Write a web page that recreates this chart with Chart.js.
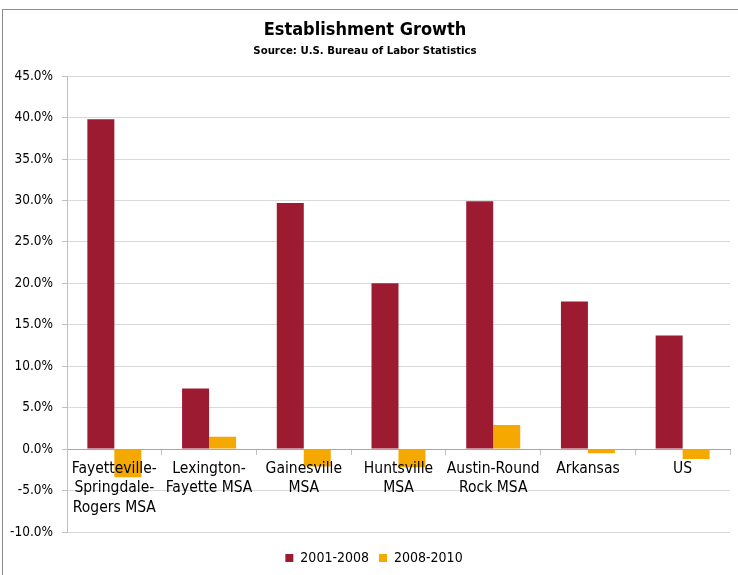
<!DOCTYPE html>
<html>
<head>
<meta charset="utf-8">
<script src="https://cdn.jsdelivr.net/npm/chart.js@4.4.1/dist/chart.umd.min.js"></script>
<style>
  html, body { margin: 0; padding: 0; background: #fff; }
  #wrap { position: relative; width: 738px; height: 575px; overflow: hidden; }
  #frame { position: absolute; left: 2px; top: 9px; width: 760px; height: 600px; border: 1px solid #8c8c8c; box-sizing: border-box; }
  canvas { position: absolute; left: 0; top: 0; }
</style>
</head>
<body>
<div id="wrap">
  <div id="frame"></div>
  <canvas id="c" width="738" height="575"></canvas>
</div>
<script>
const categories = [
  ["Fayetteville-", "Springdale-", "Rogers MSA"],
  ["Lexington-", "Fayette MSA"],
  ["Gainesville", "MSA"],
  ["Huntsville", "MSA"],
  ["Austin-Round", "Rock MSA"],
  ["Arkansas"],
  ["US"]
];
const growth2001_2008 = [39.8, 7.3, 29.7, 20.0, 29.9, 17.8, 13.7];
const growth2008_2010 = [-3.4, 1.5, -2.1, -2.2, 2.9, -0.5, -1.2];
const seriesNames = ["2001-2008", "2008-2010"];
const yTickMin = -10, yTickMax = 45, yTickStep = 5;

const FONT = '"DejaVu Sans Condensed", "DejaVu Sans", sans-serif';
const RED = '#9C1B31';
const ORANGE = '#F5A800';

// nudge the legend slightly right to match the reference centring
const legendShift = {
  id: 'legendShift',
  afterLayout(chart) {
    if (chart.legend) { chart.legend.left += 9; chart.legend.right += 9; }
  }
};

new Chart(document.getElementById('c'), {
  type: 'bar',
  data: {
    labels: categories,
    datasets: [
      { label: seriesNames[0], data: growth2001_2008, backgroundColor: RED, borderWidth: 0 },
      { label: seriesNames[1], data: growth2008_2010, backgroundColor: ORANGE, borderWidth: 0 }
    ]
  },
  options: {
    responsive: false,
    animation: false,
    layout: { padding: { left: 0, right: 8, top: 0, bottom: 0 } },
    datasets: { bar: { categoryPercentage: 0.57, barPercentage: 1.0 } },
    plugins: {
      title: {
        display: true,
        text: 'Establishment Growth',
        color: '#000',
        font: { family: FONT, size: 18, weight: 'bold' },
        padding: { top: 20, bottom: 0 }
      },
      subtitle: {
        display: true,
        text: 'Source: U.S. Bureau of Labor Statistics',
        color: '#000',
        font: { family: FONT, size: 11.3, weight: 'bold' },
        padding: { top: 3, bottom: 18 }
      },
      legend: {
        position: 'bottom',
        title: { display: true, text: ' ', padding: 0, font: { family: FONT, size: 7.5 } },
        labels: {
          color: '#000',
          font: { family: FONT, size: 14 },
          boxWidth: 8, boxHeight: 8,
          padding: 10
        }
      },
      tooltip: { enabled: false }
    },
    scales: {
      x: {
        position: { y: 0 },
        grid: { offset: true, drawOnChartArea: false, drawTicks: true, tickLength: 5, tickColor: '#bfbfbf' },
        border: { display: true, color: '#a6a6a6', width: 1 },
        ticks: {
          z: 1,
          color: '#000',
          font: { family: FONT, size: 15.5, lineHeight: 1.25 },
          padding: 5,
          maxRotation: 0, autoSkip: false
        }
      },
      y: {
        min: yTickMin, max: yTickMax,
        afterFit: (s) => { s.width = 67; },
        grid: { color: '#d9d9d9', tickLength: 5, tickColor: '#bfbfbf' },
        border: { display: true, color: '#bfbfbf', width: 1 },
        ticks: {
          stepSize: yTickStep,
          color: '#000',
          font: { family: FONT, size: 13.5 },
          padding: 9,
          callback: (v) => v.toFixed(1) + '%'
        }
      }
    }
  },
  plugins: [legendShift]
});
</script>
</body>
</html>
